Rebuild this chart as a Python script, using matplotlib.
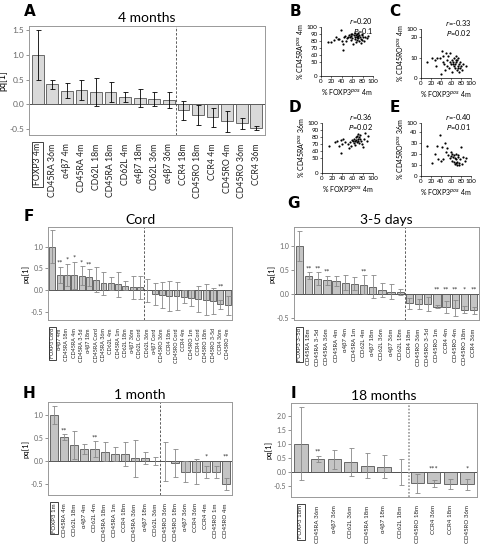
import numpy as np
import matplotlib
matplotlib.use('Agg')
import matplotlib.pyplot as plt

plt.rcParams['font.family'] = ['Lato', 'DejaVu Sans']

W, H = 481, 549

# ---------------- data ----------------
# A : 4 months
a_labels = ['FOXP3 4m', 'CD45RA 36m', 'α4β7 4m', 'CD45RA 4m', 'CD62L 18m', 'CD45RA 18m',
            'CD62L 4m', 'α4β7 18m', 'CD62L 36m', 'α4β7 36m', 'CCR4 18m', 'CD45RO 18m',
            'CCR4 4m', 'CD45RO 4m', 'CD45RO 36m', 'CCR4 36m']
a_vals = [1.0, 0.40, 0.27, 0.28, 0.25, 0.25, 0.15, 0.13, 0.11, 0.09,
          -0.13, -0.22, -0.27, -0.35, -0.39, -0.48]
a_errs = [0.51, 0.10, 0.15, 0.20, 0.29, 0.20, 0.10, 0.18, 0.14, 0.16,
          0.20, 0.20, 0.20, 0.21, 0.11, 0.04]
a_stars = [''] * 16

# F : Cord
f_labels = ['FOXP3 Cord', 'α4β7 4m', 'CD45RA 18m', 'CD45RA 4m', 'CD45RA 3-5d', 'α4β7 18m',
            'CD45RA Cord', 'CD45RA 36m', 'CD62L 4m', 'CD45RA 1m', 'CD62L 18m', 'α4β7 36m',
            'CD62L Cord', 'CD62L 36m', 'α4β7 Cord', 'CD45RO 36m', 'CCR4 18m', 'CD45RO Cord',
            'CCR4 4m', 'CD45RO 1m', 'CCR4 Cord', 'CD45RO 18m', 'CD45RO 3-5d', 'CCR4 36m',
            'CD45RO 4m']
f_vals = [1.0, 0.35, 0.35, 0.34, 0.33, 0.29, 0.24, 0.15, 0.15, 0.13, 0.10, 0.06, 0.06,
          -0.01, -0.10, -0.12, -0.14, -0.14, -0.15, -0.18, -0.20, -0.22, -0.25, -0.33, -0.35]
f_errs = [0.38, 0.19, 0.25, 0.31, 0.22, 0.20, 0.28, 0.27, 0.15, 0.28, 0.10, 0.26, 0.27,
          0.27, 0.25, 0.30, 0.34, 0.33, 0.15, 0.18, 0.30, 0.35, 0.30, 0.10, 0.22]
f_stars = ['', '**', '*', '*', '*', '**', '', '', '', '', '', '', '',
           '', '', '', '', '', '', '', '', '', '', '**', '']

# G : 3-5 days
g_labels = ['FOXP3 3-5d', 'CD45RA 18m', 'CD45RA 3-5d', 'CD45RA 36m', 'CD45RA 4m', 'α4β7 4m',
            'CD45RA 1m', 'CD62L 4m', 'α4β7 18m', 'CD62L 36m', 'α4β7 36m', 'CD62L 18m',
            'CCR4 18m', 'CD45RO 36m', 'CD45RO 3-5d', 'CD45RO 1m', 'CCR4 4m', 'CD45RO 4m',
            'CD45RO 18m', 'CCR4 36m']
g_vals = [1.0, 0.38, 0.32, 0.28, 0.27, 0.23, 0.21, 0.19, 0.15, 0.08, 0.04, 0.04,
          -0.20, -0.22, -0.22, -0.27, -0.28, -0.30, -0.33, -0.35]
g_errs = [0.31, 0.07, 0.13, 0.10, 0.11, 0.16, 0.14, 0.20, 0.24, 0.15, 0.16, 0.06,
          0.12, 0.10, 0.15, 0.03, 0.12, 0.17, 0.07, 0.07]
g_stars = ['', '**', '**', '**', '', '', '', '**', '', '', '', '',
           '', '', '', '**', '**', '**', '*', '**']

# H : 1 month
h_labels = ['FOXP3 1m', 'CD45RA 4m', 'CD62L 18m', 'α4β7 4m', 'CD62L 4m', 'CD45RA 18m',
            'CD45RA 1m', 'CCR4 18m', 'CD45RA 36m', 'α4β7 18m', 'CD62L 36m', 'CD45RO 36m',
            'CD45RO 18m', 'α4β7 36m', 'CCR4 36m', 'CCR4 4m', 'CD45RO 1m', 'CD45RO 4m']
h_vals = [1.0, 0.52, 0.34, 0.26, 0.26, 0.20, 0.15, 0.15, 0.06, 0.06, 0.0,
          -0.01, -0.04, -0.23, -0.23, -0.24, -0.25, -0.50]
h_errs = [0.20, 0.06, 0.30, 0.10, 0.17, 0.21, 0.15, 0.27, 0.40, 0.13, 0.09,
          0.43, 0.31, 0.22, 0.27, 0.14, 0.13, 0.14]
h_stars = ['', '**', '', '', '**', '', '', '', '', '', '',
           '', '', '', '', '*', '', '**']

# I : 18 months
i_labels = ['FOXP3 18m', 'CD45RA 36m', 'α4β7 36m', 'CD62L 36m', 'CD45RA 18m', 'α4β7 18m',
            'CD62L 18m', 'CD45RO 18m', 'CCR4 36m', 'CCR4 18m', 'CD45RO 36m']
i_vals = [1.0, 0.46, 0.45, 0.35, 0.23, 0.19, 0.01, -0.40, -0.40, -0.43, -0.44]
i_errs = [1.30, 0.12, 0.33, 0.50, 0.45, 0.40, 0.47, 0.33, 0.12, 0.17, 0.19]
i_stars = ['', '**', '', '', '', '', '', '', '***', '', '*']

# scatter panels (x = % FOXP3pos 4m)
b_x = [13, 20, 25, 28, 32, 35, 38, 40, 42, 43, 45, 47, 48, 50, 52, 53, 55, 57, 58, 60, 60, 62,
       63, 65, 65, 67, 68, 69, 70, 70, 71, 72, 73, 74, 75, 76, 77, 78, 79, 80, 82, 85, 88, 90,
       72, 66, 58, 78, 70]
b_y = [78, 79, 82, 85, 83, 83, 95, 80, 67, 76, 85, 87, 80, 84, 86, 88, 85, 82, 87, 90, 84, 76,
       88, 86, 91, 78, 88, 85, 90, 86, 84, 87, 80, 89, 86, 77, 83, 88, 82, 85, 80, 86, 84, 87,
       92, 83, 90, 90, 82]
c_x = [13, 22, 28, 30, 33, 38, 40, 42, 44, 45, 47, 48, 50, 52, 53, 55, 57, 58, 60, 62, 63, 65,
       66, 67, 68, 69, 70, 71, 72, 73, 74, 75, 76, 77, 78, 79, 80, 82, 85, 90, 70, 75, 64, 58]
c_y = [8, 10, 9, 6, 10, 10, 2, 13, 11, 8, 7, 4, 12, 9, 6, 11, 5, 8, 7, 9, 3, 8,
       6, 10, 5, 7, 11, 8, 4, 9, 6, 10, 7, 3, 8, 5, 6, 4, 7, 6, 9, 5, 7, 12]
d_x = [13, 25, 30, 33, 37, 38, 40, 42, 45, 50, 55, 57, 58, 60, 62, 63, 65, 66, 67, 68, 69, 70,
       70, 71, 72, 73, 74, 75, 76, 78, 80, 82, 85, 88, 90, 64, 52]
d_y = [68, 73, 74, 68, 76, 57, 70, 77, 73, 70, 73, 68, 76, 75, 72, 78, 74, 80, 76, 73, 82, 84,
       78, 75, 80, 72, 78, 83, 74, 70, 66, 78, 86, 75, 82, 69, 65]
e_x = [13, 22, 28, 32, 35, 38, 40, 42, 45, 48, 50, 52, 55, 58, 60, 62, 63, 65, 66, 67, 68, 69,
       70, 70, 71, 72, 73, 74, 75, 76, 78, 80, 82, 85, 88, 90, 77, 60]
e_y = [27, 12, 20, 27, 15, 37, 14, 26, 15, 30, 22, 25, 19, 16, 18, 20, 14, 17, 13, 19, 11, 16,
       12, 20, 15, 10, 13, 17, 19, 12, 15, 26, 11, 17, 14, 16, 10, 22]


def rect(x0, y0, x1, y1):
    return [x0 / W, 1 - y1 / H, (x1 - x0) / W, (y1 - y0) / H]


fig = plt.figure(figsize=(W / 100, H / 100), dpi=100)


def bar_panel(box, labels, vals, errs, stars, n_left, ylim, yticks, fs, tfs,
              ecol, face, dotted=False):
    ax = fig.add_axes(rect(*box))
    x = np.arange(len(vals))
    ax.bar(x, vals, width=0.8, color=face, edgecolor='#555555', linewidth=0.6, zorder=2)
    ax.errorbar(x, vals, yerr=errs, fmt='none', ecolor=ecol, elinewidth=0.6,
                capsize=1.8, capthick=0.6, zorder=3)
    ax.axhline(0, color='#333333', lw=0.6, zorder=1)
    if dotted:
        ax.axvline(n_left - 0.5, color='#999999', lw=1.2, ls=(0, (1, 1)))
    else:
        ax.axvline(n_left - 0.5, color='#444444', lw=0.6, ls=(0, (3, 2)))
    for xi, v, e, s in zip(x, vals, errs, stars):
        if s:
            yy = v + e if v > 0 else 0.0
            ax.text(xi, yy, s, ha='center', va='bottom', fontsize=5.5, color='#333333')
    ax.set_xlim(-0.6, len(vals) - 0.4)
    ax.set_ylim(*ylim)
    ax.set_yticks(yticks)
    ax.set_yticklabels(['%.1f' % t for t in yticks], fontsize=tfs, color='#444444')
    ax.set_xticks(x)
    ax.set_xticklabels(labels, rotation=90, fontsize=fs, color='#222222')
    ax.tick_params(axis='x', length=0, pad=6)
    ax.tick_params(axis='y', length=2, width=0.5, pad=1.5, colors='#666666')
    ax.get_xticklabels()[0].set_bbox(dict(facecolor='white', edgecolor='#222222',
                                          pad=0.8, lw=0.6))
    for sp in ax.spines.values():
        sp.set_color('#999999')
        sp.set_linewidth(0.7)
    ax.set_ylabel('pq[1]', fontsize=tfs + 0.5, labelpad=1)
    return ax


axA = bar_panel((29, 26, 265, 135), a_labels, a_vals, a_errs, a_stars, 10,
                (-0.63, 1.59), [-0.5, 0.0, 0.5, 1.0, 1.5], 6.3, 6, 'black', '#d9d9d9')
axA.set_title('4 months', fontsize=10, pad=3)

axF = bar_panel((48, 227, 232, 320), f_labels, f_vals, f_errs, f_stars, 13,
                (-0.69, 1.45), [-0.5, 0.0, 0.5, 1.0], 3.9, 5, '#888888', '#c4c4c4')
axF.set_title('Cord', fontsize=10, pad=2)

axG = bar_panel((294, 227, 479, 320), g_labels, g_vals, g_errs, g_stars, 12,
                (-0.55, 1.40), [-0.5, 0.0, 0.5, 1.0], 4.3, 5, '#888888', '#c4c4c4')
axG.set_title('3-5 days', fontsize=10, pad=2)

axH = bar_panel((48, 402, 232, 495), h_labels, h_vals, h_errs, h_stars, 11,
                (-0.74, 1.28), [-0.5, 0.0, 0.5, 1.0], 4.4, 5, '#888888', '#c4c4c4')
axH.set_title('1 month', fontsize=10, pad=2)

axI = bar_panel((291, 403, 477, 497), i_labels, i_vals, i_errs, i_stars, 7,
                (-0.89, 2.46), [-0.5, 0.0, 0.5, 1.0, 1.5, 2.0], 4.4, 5, '#888888', '#c4c4c4',
                dotted=True)
axI.set_title('18 months', fontsize=10, pad=2)


def scatter_panel(box, xs, ys, ylim, yticks, yticklabels, ylabel, r_txt, p_txt):
    ax = fig.add_axes(rect(*box))
    ax.scatter(xs, ys, s=2.5, c='black', clip_on=False, zorder=3, linewidths=0)
    ax.set_xlim(0, 100)
    ax.set_ylim(*ylim)
    ax.set_xticks([0, 20, 40, 60, 80, 100])
    ax.set_xticklabels(['0', '20', '40', '60', '80', '100'], fontsize=4.5)
    ax.set_yticks(yticks)
    ax.set_yticklabels(yticklabels, fontsize=4.5)
    ax.tick_params(length=1.5, width=0.4, pad=1)
    for s in ['top', 'right']:
        ax.spines[s].set_visible(False)
    for s in ['left', 'bottom']:
        ax.spines[s].set_linewidth(0.5)
    ax.set_xlabel('% FOXP3$^{pos}$ 4m', fontsize=5, labelpad=1.5)
    ax.set_ylabel(ylabel, fontsize=5, labelpad=1)
    x1 = box[2] / W
    ytop = 1 - box[1] / H
    fig.text(x1, ytop + 6 / H, r_txt, ha='right', va='center', fontsize=5.3)
    fig.text(x1, ytop - 4 / H, p_txt, ha='right', va='center', fontsize=5.3)
    return ax


scatter_panel((321, 27, 373, 76), b_x, b_y, (29.5, 100),
              [29.5, 50, 60, 70, 80, 90, 100], ['0', '50', '60', '70', '80', '90', '100'],
              '% CD45RA$^{pos}$ 4m', '$\\it{r}$=0.20', '$\\it{P}$=0.1')
scatter_panel((421, 29, 471, 78), c_x, c_y, (0, 24),
              [0, 10, 20, 24], ['0', '10', '20', '100'],
              '% CD45RO$^{pos}$ 4m', '$\\it{r}$=-0.33', '$\\it{P}$=0.02')
scatter_panel((322, 123, 373, 173), d_x, d_y, (29.5, 100),
              [29.5, 50, 60, 70, 80, 90, 100], ['0', '50', '60', '70', '80', '90', '100'],
              '% CD45RA$^{pos}$ 36m', '$\\it{r}$=0.36', '$\\it{P}$=0.02')
scatter_panel((421, 123, 471, 176), e_x, e_y, (0, 48),
              [0, 10, 20, 30, 40, 48], ['0', '10', '20', '30', '40', '100'],
              '% CD45RO$^{pos}$ 36m', '$\\it{r}$=-0.40', '$\\it{P}$=0.01')

# panel letters
for lab, px, py in [('A', 30, 11), ('B', 295, 12), ('C', 395, 12), ('D', 295, 107),
                    ('E', 395, 107), ('F', 29, 217), ('G', 294, 203), ('H', 29, 393),
                    ('I', 293, 393)]:
    fig.text(px / W, 1 - py / H, lab, fontsize=11, fontweight='bold',
             family='DejaVu Sans', ha='center', va='center')

fig.savefig('out.png', dpi=100)
